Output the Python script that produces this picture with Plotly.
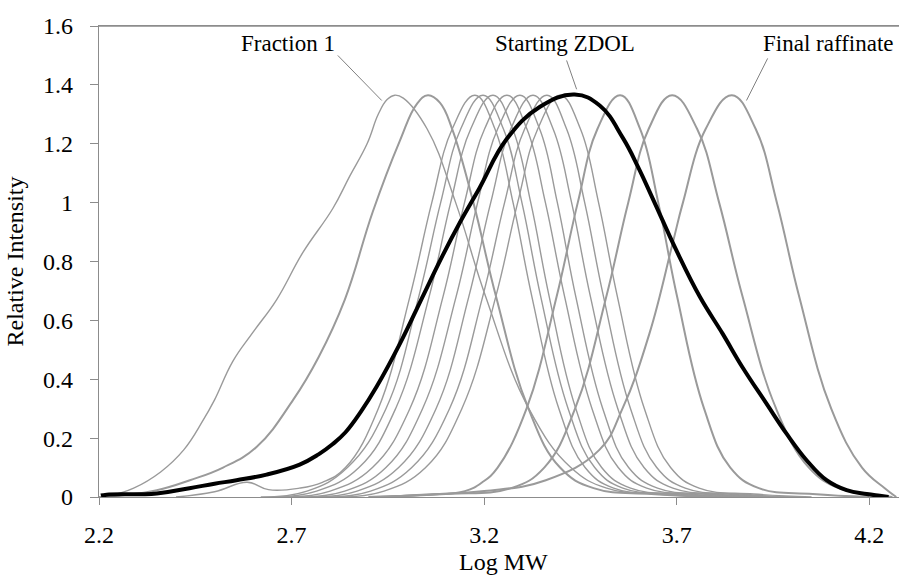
import plotly.graph_objects as go

# ---------------- data ----------------
# Starting ZDOL (black)
zdol_x = [2.205, 2.220, 2.350, 2.435, 2.500, 2.557, 2.635, 2.721, 2.770, 2.807, 2.840,
          2.880, 2.921, 2.981, 3.040, 3.092, 3.136, 3.188, 3.258, 3.344, 3.435, 3.500,
          3.560, 3.600, 3.640, 3.700, 3.760, 3.819, 3.871, 3.933, 3.985, 4.037, 4.089,
          4.141, 4.193, 4.227, 4.250]
zdol_y = [0.005, 0.008, 0.012, 0.030, 0.045, 0.057, 0.076, 0.110, 0.145, 0.180, 0.220,
          0.290, 0.375, 0.520, 0.680, 0.820, 0.930, 1.050, 1.215, 1.325, 1.367, 1.330,
          1.220, 1.120, 1.007, 0.835, 0.680, 0.555, 0.440, 0.317, 0.215, 0.125, 0.057,
          0.023, 0.010, 0.004, 0.000]

# Fraction 1
f1_x = [2.20, 2.23, 2.29, 2.36, 2.42, 2.47, 2.50, 2.547, 2.60, 2.661, 2.729, 2.807, 2.851,
        2.896, 2.925, 2.948, 2.968, 2.99, 3.052, 3.126, 3.204, 3.316, 3.425, 3.518, 3.648, 3.818]
f1_y = [0.0, 0.005, 0.03, 0.085, 0.16, 0.26, 0.33, 0.46, 0.56, 0.67, 0.83, 0.98, 1.09,
        1.20, 1.30, 1.35, 1.365, 1.355, 1.25, 1.0, 0.68, 0.3, 0.1, 0.03, 0.01, 0.0]

# Fraction 2
f2_x = [2.20, 2.262, 2.35, 2.436, 2.522, 2.609, 2.704, 2.77, 2.838, 2.911, 2.981, 3.025,
        3.054, 3.085, 3.117, 3.172, 3.231, 3.315, 3.397, 3.484, 3.634, 3.80]
f2_y = [0.0, 0.006, 0.023, 0.057, 0.1, 0.17, 0.33, 0.475, 0.67, 0.97, 1.21, 1.335,
        1.365, 1.34, 1.25, 1.0, 0.68, 0.3, 0.1, 0.03, 0.01, 0.0]

# Fraction 3 (with the small low-MW bump)
f3_x = [2.40, 2.50, 2.585, 2.64, 2.72, 2.78, 2.84, 2.925, 3.007, 3.064, 3.117, 3.176,
        3.228, 3.275, 3.324, 3.394, 3.462, 3.536, 3.676, 3.826]
f3_y = [0.0, 0.018, 0.05, 0.025, 0.03, 0.05, 0.1, 0.3, 0.68, 1.0, 1.25, 1.365,
        1.25, 1.0, 0.68, 0.3, 0.1, 0.03, 0.01, 0.0]

# Fractions 4 - 10 (shared intensity levels)
frac_y = [0.0, 0.02, 0.1, 0.3, 0.68, 1.0, 1.25, 1.365, 1.25, 1.0, 0.68, 0.3, 0.1, 0.03, 0.01, 0.0]
f4_x = [2.62, 2.74, 2.845, 2.945, 3.03, 3.087, 3.139, 3.197, 3.250, 3.298, 3.347, 3.418, 3.487, 3.560, 3.700, 3.850]
f5_x = [2.65, 2.765, 2.875, 2.97, 3.057, 3.113, 3.165, 3.223, 3.274, 3.321, 3.369, 3.438, 3.505, 3.580, 3.720, 3.870]
f6_x = [2.69, 2.80, 2.91, 3.007, 3.093, 3.149, 3.201, 3.259, 3.311, 3.359, 3.409, 3.480, 3.548, 3.622, 3.765, 3.915]
f7_x = [2.72, 2.838, 2.945, 3.04, 3.127, 3.183, 3.235, 3.293, 3.344, 3.390, 3.438, 3.508, 3.575, 3.650, 3.790, 3.940]
f8_x = [2.76, 2.87, 2.978, 3.075, 3.160, 3.217, 3.269, 3.327, 3.379, 3.427, 3.476, 3.547, 3.615, 3.690, 3.830, 3.980]
f9_x = [2.79, 2.905, 3.012, 3.11, 3.196, 3.253, 3.305, 3.363, 3.414, 3.461, 3.510, 3.580, 3.648, 3.722, 3.860, 4.010]
f10_x = [2.825, 2.94, 3.048, 3.142, 3.230, 3.287, 3.339, 3.397, 3.450, 3.497, 3.546, 3.616, 3.684, 3.758, 3.900, 4.050]

# Late fractions (noisy traces)
f11_x = [2.90, 3.05, 3.15, 3.195, 3.235, 3.31, 3.388, 3.443, 3.494, 3.553, 3.605, 3.652,
         3.701, 3.771, 3.839, 3.913, 4.053, 4.20]
f11_y = [0.0, 0.008, 0.02, 0.05, 0.1, 0.3, 0.68, 1.0, 1.25, 1.365, 1.25, 1.0,
         0.68, 0.3, 0.1, 0.03, 0.01, 0.0]
f12_x = [2.90, 3.10, 3.27, 3.356, 3.436, 3.517, 3.574, 3.627, 3.688, 3.753, 3.810, 3.871,
         3.958, 4.043, 4.12, 4.20, 4.26]
f12_y = [0.0, 0.01, 0.03, 0.1, 0.3, 0.68, 1.0, 1.25, 1.365, 1.25, 1.0, 0.68,
         0.3, 0.1, 0.03, 0.01, 0.0]
# Final raffinate
raff_x = [2.95, 3.0, 3.2, 3.36, 3.499, 3.559, 3.629, 3.689, 3.716, 3.775, 3.843, 3.905,
          3.960, 4.018, 4.101, 4.181, 4.24, 4.27]
raff_y = [0.0, 0.005, 0.02, 0.057, 0.16, 0.3, 0.555, 0.86, 1.0, 1.25, 1.365, 1.25,
          1.0, 0.68, 0.3, 0.1, 0.03, 0.0]

x_ticks = [2.2, 2.7, 3.2, 3.7, 4.2]
y_ticks = [0, 0.2, 0.4, 0.6, 0.8, 1.0, 1.2, 1.4, 1.6]
y_tick_text = ["0", "0.2", "0.4", "0.6", "0.8", "1", "1.2", "1.4", "1.6"]

# ---------------- figure ----------------
GRAY = "#9a9a9a"
AXIS = "#8c8c8c"
LEADER = "#808080"
FONT = "Times New Roman, Liberation Serif, DejaVu Serif, serif"

fig = go.Figure()

thin = [(f1_x, f1_y), (f3_x, f3_y), (f4_x, frac_y), (f5_x, frac_y), (f6_x, frac_y),
        (f7_x, frac_y), (f8_x, frac_y), (f9_x, frac_y), (f10_x, frac_y)]
noisy = [(f2_x, f2_y), (f11_x, f11_y), (f12_x, f12_y), (raff_x, raff_y)]

for xs, ys in thin:
    fig.add_trace(go.Scatter(x=xs, y=ys, mode="lines",
                             line=dict(color=GRAY, width=1.4, shape="spline", smoothing=1.2),
                             showlegend=False, hoverinfo="skip"))
for xs, ys in noisy:
    fig.add_trace(go.Scatter(x=xs, y=ys, mode="lines",
                             line=dict(color=GRAY, width=2.0, shape="spline", smoothing=1.2),
                             showlegend=False, hoverinfo="skip"))

fig.add_trace(go.Scatter(x=zdol_x, y=zdol_y, mode="lines",
                         line=dict(color="black", width=4, shape="spline", smoothing=1.2),
                         showlegend=False, hoverinfo="skip"))

# labels with leader lines
labels = [
    ("Fraction 1", 2.563, "left", 2.820, 1.500, 2.934, 1.347),
    ("Starting ZDOL", 3.222, "left", 3.414, 1.483, 3.440, 1.385),
    ("Final raffinate", 4.268, "right", 3.936, 1.490, 3.881, 1.347),
]
for text, tx, anchor, x0, y0, x1, y1 in labels:
    fig.add_annotation(x=tx, y=1.541, text=text, showarrow=False, xanchor=anchor,
                       yanchor="middle", font=dict(family=FONT, size=23, color="black"))
    fig.add_shape(type="line", x0=x0, y0=y0, x1=x1, y1=y1, xref="x", yref="y",
                  line=dict(color=LEADER, width=1))

# top border of the plot area
fig.add_shape(type="line", xref="paper", yref="paper", x0=0, x1=1, y0=1, y1=1,
              line=dict(color=AXIS, width=1.3))

# x-axis title placed as annotation (sits right at the bottom edge like the reference)
fig.add_annotation(x=0.505, xref="paper", y=-0.138, yref="paper", text="Log MW",
                   showarrow=False, xanchor="center", yanchor="middle",
                   font=dict(family=FONT, size=24, color="black"))

fig.update_layout(
    width=899, height=575,
    margin=dict(l=99, r=0, t=26, b=78),
    paper_bgcolor="white", plot_bgcolor="white",
    font=dict(family=FONT, size=24, color="black"),
    showlegend=False,
)
fig.update_xaxes(range=[2.2, 4.277], tickvals=x_ticks, ticktext=[str(v) for v in x_ticks],
                 ticks="outside", ticklen=7, tickcolor=AXIS, tickwidth=1,
                 showline=True, linecolor=AXIS, linewidth=1.3, mirror=True,
                 showgrid=False, zeroline=False,
                 tickfont=dict(family=FONT, size=24),
                 ticklabelstandoff=9)
fig.update_yaxes(range=[0, 1.6], tickvals=y_ticks, ticktext=y_tick_text,
                 ticks="outside", ticklen=8, tickcolor=AXIS, tickwidth=1,
                 showline=True, linecolor=AXIS, linewidth=1.3,
                 showgrid=False, zeroline=False,
                 tickfont=dict(family=FONT, size=24),
                 title=dict(text="Relative Intensity", standoff=12, font=dict(family=FONT, size=24)),
                 ticklabelstandoff=12)

fig.write_html("out.html", config={"displayModeBar": False},
               post_script="document.body.style.margin='0px';document.body.style.overflow='hidden';")
